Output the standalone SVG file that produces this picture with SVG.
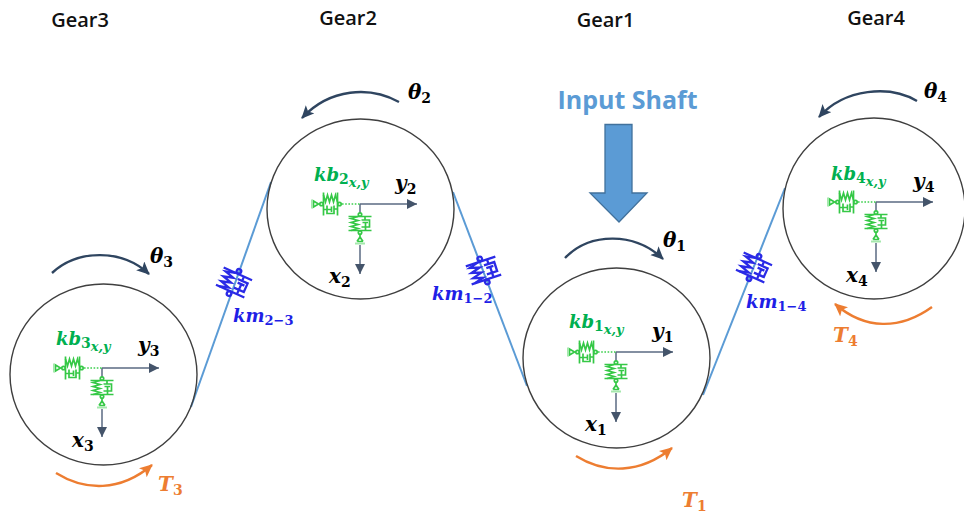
<svg xmlns="http://www.w3.org/2000/svg" width="964" height="518" viewBox="0 0 964 518">
<style>
.gear{fill:none;stroke:#3f3f3f;stroke-width:1.4}
.title{font-family:"Open Sans","Liberation Sans",sans-serif;font-weight:600;font-size:20px;fill:#111;text-anchor:middle}
.m{font-family:"DejaVu Serif","Liberation Serif",serif;font-weight:700;font-style:italic;font-size:20px}
.km{font-size:18px}
.s{font-size:14px;font-style:normal}
.si{font-size:13px}
.xy{font-size:13px;font-style:italic}
.k{fill:#000}
.g{fill:#00b050}
.b{fill:#1f1fe6}
.o{fill:#ed7d31}
.axis{fill:none;stroke:#5a6a82;stroke-width:1.5}
.belt{fill:none;stroke:#5b9bd5;stroke-width:2}
.rot{fill:none;stroke:#2f4560;stroke-width:2.4}
.tq{fill:none;stroke:#ed7d31;stroke-width:2.4}
.sd{fill:none;stroke:currentColor;stroke-width:1.7}
.dot{fill:none;stroke:#3ccf4e;stroke-width:1.6;stroke-dasharray:1.6 1.6}
.lite{fill:none;stroke:#a5e8ad;stroke-width:2}
.green{color:#35c846}
.blue{color:#2a2ae6}
</style>
<defs>
<marker id="ax" markerUnits="userSpaceOnUse" markerWidth="11" markerHeight="11" refX="10" refY="5" orient="auto"><path d="M0 0L10 5L0 10Z" fill="#44546a"/></marker>
<marker id="rh" markerUnits="userSpaceOnUse" markerWidth="14" markerHeight="13" refX="12" refY="6" orient="auto"><path d="M0 0L13 6L0 12L3 6Z" fill="#2f4560"/></marker>
<marker id="th" markerUnits="userSpaceOnUse" markerWidth="14" markerHeight="13" refX="12" refY="6" orient="auto"><path d="M0 0L13 6L0 12L3 6Z" fill="#ed7d31"/></marker>
<g id="sd">
<path class="sd" d="M-11.500 -7H11.500M-11.500 7H11.500"/>
<circle class="sd" cx="0" cy="-9" r="1.700"/><circle class="sd" cx="0" cy="9" r="1.700"/>
<path class="sd" d="M-2 -7L-9 -5L-2 -3L-9 -1L-2 1L-9 3L-2 5L-9 7"/>
<path class="sd" d="M5 -7V-3.500M1.500 -3.500H9.500V3.500H1.500M5.500 -1V7M2.500 -1H8"/>
</g>
<g id="supports">
<g class="green">
<use href="#sd" transform="translate(-29.500,0) rotate(90)"/>
<path class="dot" d="M-18 0H0"/>
<path class="sd" d="M-46.500 -3V3L-41.500 0Z"/>
<path class="lite" d="M-48 -4.500V4.500"/>
</g>
<g class="green">
<use href="#sd" transform="translate(0,19.500)"/>
<path class="sd" d="M-3 37.500L0 33V30M3 37.500L0 33M-3 37.500H3"/>
<path class="lite" d="M-5 39.500H5"/>
</g>
</g>
</defs>

<g id="connectors">
<path class="belt" d="M191 407L271 182"/>
<path class="belt" d="M453 192L527 386"/>
<path class="belt" d="M703 395L785 188"/>
<path class="rot" marker-end="url(#rh)" d="M52 273C78 249 122 249 149 274"/>
<path class="rot" marker-end="url(#rh)" d="M399 102C370 86 330 88 302 118"/>
<path class="rot" marker-end="url(#rh)" d="M565 258C590 232 635 232 663 259"/>
<path class="rot" marker-end="url(#rh)" d="M917 101C890 85 845 88 819 117"/>
<path class="tq" marker-end="url(#th)" d="M56 473C85 491 120 492 152 465"/>
<path class="tq" marker-end="url(#th)" d="M576 456C605 474 640 474 672 448"/>
<path class="tq" marker-end="url(#th)" d="M932 307C900 330 865 330 835 304"/>
</g>

<g id="gear3">
<text class="title" x="80" y="27">Gear3</text>
<ellipse class="gear" cx="103.500" cy="374.500" rx="93.500" ry="90.500"/>
<path class="axis" marker-end="url(#ax)" d="M102 368H159"/>
<path class="axis" d="M102 368V377"/>
<path class="axis" marker-end="url(#ax)" d="M102 409V437"/>
<use href="#supports" x="102" y="368"/>
<text class="m km g" x="56" y="345">kb<tspan class="s" dy="3">3</tspan><tspan class="xy" dy="3">x,y</tspan></text>
<text class="m k" x="138" y="352">y<tspan class="s" dy="4">3</tspan></text>
<text class="m k" x="72" y="447">x<tspan class="s" dy="4">3</tspan></text>
<text class="m k" x="150" y="263">θ<tspan class="s" dy="4">3</tspan></text>
<text class="m o" x="158" y="491">T<tspan class="s" dy="4">3</tspan></text>
</g>

<g id="gear2">
<text class="title" x="348" y="24.500">Gear2</text>
<ellipse class="gear" cx="360.500" cy="209" rx="93.500" ry="90"/>
<path class="axis" marker-end="url(#ax)" d="M360 204H417"/>
<path class="axis" d="M360 204V213"/>
<path class="axis" marker-end="url(#ax)" d="M360 245V274"/>
<use href="#supports" x="360" y="204"/>
<text class="m km g" x="314" y="181">kb<tspan class="s" dy="3">2</tspan><tspan class="xy" dy="3">x,y</tspan></text>
<text class="m k" x="395" y="190">y<tspan class="s" dy="4">2</tspan></text>
<text class="m k" x="329" y="283">x<tspan class="s" dy="4">2</tspan></text>
<text class="m k" x="408" y="99">θ<tspan class="s" dy="4">2</tspan></text>
</g>

<g id="gear1">
<text class="title" x="605.500" y="27">Gear1</text>
<ellipse class="gear" cx="616.500" cy="358" rx="93.500" ry="90"/>
<path class="axis" marker-end="url(#ax)" d="M616 352H673"/>
<path class="axis" d="M616 352V361"/>
<path class="axis" marker-end="url(#ax)" d="M616 393V422"/>
<use href="#supports" x="616" y="352"/>
<text class="m km g" x="569" y="328">kb<tspan class="s" dy="3">1</tspan><tspan class="xy" dy="3">x,y</tspan></text>
<text class="m k" x="652" y="338">y<tspan class="s" dy="4">1</tspan></text>
<text class="m k" x="585" y="431">x<tspan class="s" dy="4">1</tspan></text>
<text class="m k" x="663" y="247">θ<tspan class="s" dy="4">1</tspan></text>
<text class="m o" x="682" y="507">T<tspan class="s" dy="4">1</tspan></text>
</g>

<g id="gear4">
<text class="title" x="876" y="25">Gear4</text>
<ellipse class="gear" cx="874" cy="208.500" rx="91" ry="90.500"/>
<path class="axis" marker-end="url(#ax)" d="M876 202H933"/>
<path class="axis" d="M876 202V211"/>
<path class="axis" marker-end="url(#ax)" d="M876 243V272"/>
<use href="#supports" x="876" y="202"/>
<text class="m km g" x="831" y="180">kb<tspan class="s" dy="3">4</tspan><tspan class="xy" dy="3">x,y</tspan></text>
<text class="m k" x="913" y="188">y<tspan class="s" dy="4">4</tspan></text>
<text class="m k" x="846" y="282">x<tspan class="s" dy="4">4</tspan></text>
<text class="m k" x="924" y="98">θ<tspan class="s" dy="4">4</tspan></text>
<text class="m o" x="833" y="342">T<tspan class="s" dy="4">4</tspan></text>
</g>

<g id="input-shaft">
<text x="627.500" y="109" text-anchor="middle" font-family="'Open Sans','Liberation Sans',sans-serif" font-weight="700" font-size="25" fill="#5b9bd5">Input Shaft</text>
<path d="M605 124.500H632V193H647L619 222L590 193H605Z" fill="#5b9bd5" stroke="#41719c" stroke-width="1.3"/>
</g>

<g id="km23" class="blue">
<use href="#sd" transform="translate(234,282.500) rotate(24) scale(1.35)"/>
<text class="m km b" x="233" y="322">km<tspan class="s si" dy="3">2−3</tspan></text>
</g>
<g id="km12" class="blue">
<use href="#sd" transform="translate(483.500,270.500) rotate(-18) scale(1.35)"/>
<text class="m km b" x="432" y="300">km<tspan class="s si" dy="3">1−2</tspan></text>
</g>
<g id="km14" class="blue">
<use href="#sd" transform="translate(754,267.500) rotate(24) scale(1.35)"/>
<text class="m km b" x="746" y="308">km<tspan class="s si" dy="3">1−4</tspan></text>
</g>
</svg>
